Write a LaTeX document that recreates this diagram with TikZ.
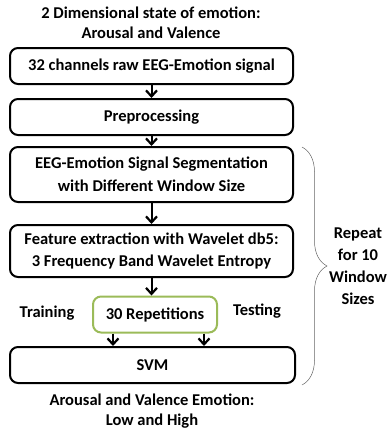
\documentclass[tikz,border=0pt]{standalone}
\usepackage{fontspec}
\setmainfont{Carlito}
\usetikzlibrary{positioning,arrows.meta,decorations.pathreplacing}
\definecolor{olivegreen}{HTML}{9BBB59}

\begin{document}
\begin{tikzpicture}[x=1pt,y=-1pt,
  txt/.style={font=\bfseries\fontsize{16.5}{20}\selectfont, align=center},
  stage/.style={txt, draw, line width=2pt, rounded corners=8pt,
    minimum width=283pt, minimum height=36pt, inner sep=0pt},
  flow/.style={-{Straight Barb[length=6pt,width=11pt,line width=2.2pt]}, line width=2pt}]
\useasboundingbox (0,0) rectangle (390,432);

\node [txt] (title) at (151,23) {2 Dimensional state of emotion:\\Arousal and Valence};
\node [stage] (raw) at (151.5,66) {32 channels raw EEG-Emotion signal};
\node [stage] (pre) at (151.5,117) {Preprocessing};
\node [stage, minimum height=55pt, font=\bfseries\fontsize{16.5}{23}\selectfont] (seg) at (151.5,174.5) {EEG-Emotion Signal Segmentation\\with Different Window Size};
\node [stage, minimum height=52pt, font=\bfseries\fontsize{16.5}{22}\selectfont] (feat) at (151.5,251) {Feature extraction with Wavelet db5:\\3 Frequency Band Wavelet Entropy};
\node [stage, draw=olivegreen, minimum width=124pt] (rep) at (155,314.5) {30 Repetitions};
\node [stage, minimum width=285pt] (svm) at (152.5,365) {SVM};
\node [txt] (train) at (47,313) {Training};
\node [txt] (test) at (257,311) {Testing};
\node [txt] (out) at (152,411) {Arousal and Valence Emotion:\\Low and High};
\node [txt, font=\bfseries\fontsize{16.5}{22}\selectfont] (repeat) at (358,266) {Repeat\\for 10\\Window\\Sizes};

\draw [flow] (raw) -- (pre);
\draw [flow] (pre) -- (seg);
\draw [flow] (seg) -- (feat);
\draw [flow] (feat.south) -- (feat.south |- rep.north);
\draw [flow] ([xshift=-42pt]rep.south) -- ([xshift=-42pt]rep.south |- svm.north);
\draw [flow] ([xshift=49pt]rep.south) -- ([xshift=49pt]rep.south |- svm.north);

\coordinate (btop) at (302,147);
\coordinate (bbot) at (302,385);
\draw [gray!80!black, line width=0.5pt, decorate, decoration={brace, amplitude=25pt}] (btop) -- (bbot);
\end{tikzpicture}
\end{document}
